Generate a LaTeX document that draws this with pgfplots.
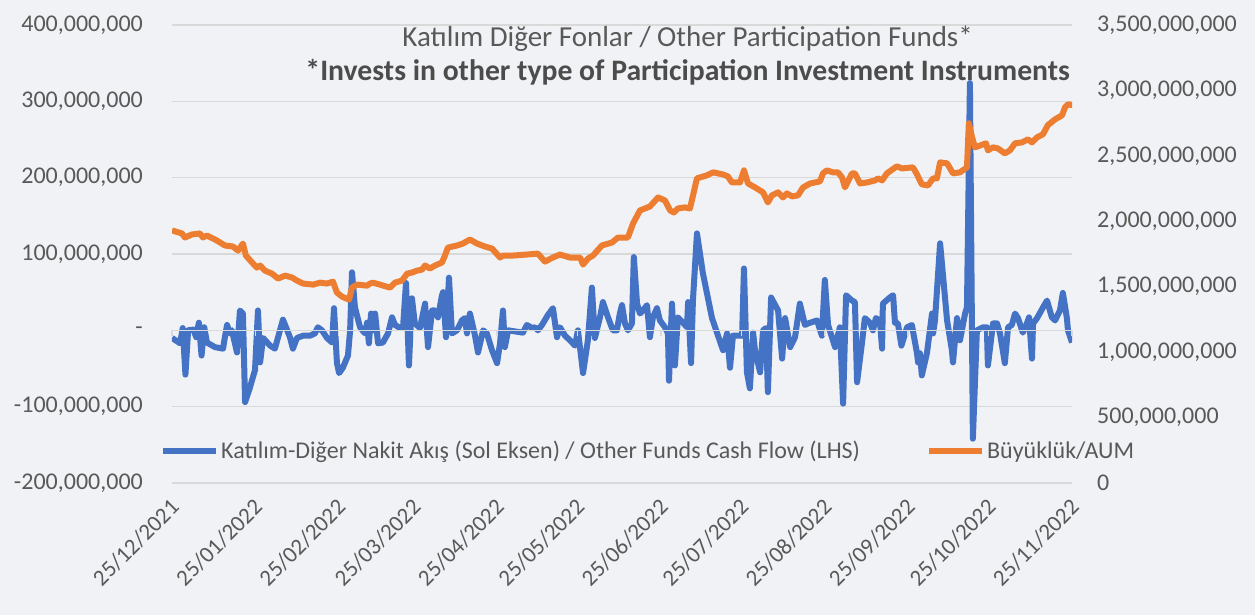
\documentclass[border=0pt]{standalone}
\usepackage{pgfplots}
\pgfplotsset{compat=1.18}
\usepackage{fontspec}
\setmainfont{Carlito}
\definecolor{bgc}{RGB}{241,242,245}
\definecolor{txt}{RGB}{89,89,89}
\definecolor{gridc}{RGB}{217,217,217}
\definecolor{cfblue}{RGB}{68,114,196}
\definecolor{aumorange}{RGB}{237,125,49}
\newcommand{\fs}{\fontsize{24bp}{29bp}\selectfont}
\newcommand{\fx}{\fontsize{23bp}{28bp}\selectfont}
\newcommand{\ft}{\fontsize{29bp}{34bp}\selectfont}
\newcommand{\ftb}{\fontsize{29.7bp}{34bp}\selectfont}
\begin{document}
\begin{tikzpicture}
\fill[bgc,use as bounding box] (-172bp,-132bp) rectangle (1083bp,483bp);
% left axis: cash flow (millions)
\begin{axis}[
  scale only axis, width=900bp, height=458bp,
  xmin=0, xmax=335, ymin=-200, ymax=400,
  axis y line*=left, axis x line*=bottom,
  axis line style={draw=none},
  xtick={0,31,62,90,121,151,182,212,243,274,304,335},
  xticklabels={25/12/2021,25/01/2022,25/02/2022,25/03/2022,25/04/2022,25/05/2022,25/06/2022,25/07/2022,25/08/2022,25/09/2022,25/10/2022,25/11/2022},
  xticklabel style={xshift=-3bp, yshift=-14bp, rotate=45, anchor=north east, inner sep=0pt, font=\fx, text=txt},
  ytick={-200,-100,0,100,200,300,400},
  yticklabels={{-200,000,000},{-100,000,000},{-},{100,000,000},{200,000,000},{300,000,000},{400,000,000}},
  yticklabel style={inner sep=0pt, xshift=-29bp, font=\fs, text=txt},
  major tick length=0pt,
  ymajorgrids, grid style={gridc, line width=1.4bp},
]
\addplot[cfblue, line width=6bp, line join=round] coordinates {
(0,-10)(3,-17)(4,3)(5,-58)(6,0)(8,1)(9,-9)(10,10)(11,-33)(12,4)(13,-16)(16,-22)(19,-24)(19.5,-13)(20.5,7)(21.6,-4)(22.3,0)(24.2,-29)(25.3,26)(26.4,22)(27.2,-94)(29,-75)(30.9,-52)(32,26)(32.8,-42)(33.9,-10)(36.5,-20)(38.3,-24)(41.3,14)(43.9,-9)(45,-24)(46.5,-10)(48.8,-7)(51.4,-7)(53.2,-4)(54.3,4)(55.8,0)(57.7,-10)(59.6,-16)(60.3,29)(61.4,-43)(62.2,-56)(63.6,-49)(65.5,-33)(66.3,0)(67,76)(68.1,30)(70,4)(71.8,-4)(72.6,10)(73.3,-17)(74.1,22)(74.8,0)(75.6,22)(76.7,-17)(78.5,-16)(80.4,-4)(81.9,17)(83,7)(84.9,3)(86,4)(87.1,62)(88.2,-46)(89.3,42)(90.4,9)(92.3,3)(94.2,35)(95.3,-22)(96.8,26)(97.9,26)(99,17)(100.5,46)(100.9,50)(102,-9)(103.1,69)(104.2,-4)(106.1,0)(107.9,13)(109,16)(109.8,-4)(110.9,22)(112.8,-7)(113.9,-29)(115.8,0)(117.2,-4)(119.1,-26)(121,-43)(122.1,-17)(123.2,26)(123.9,-22)(125.1,0)(130.6,-3)(132.1,7)(134,3)(135.1,4)(136.2,0)(137.7,7)(139.9,20)(141.8,29)(143.3,-9)(144.4,4)(146.3,-7)(148.1,-13)(150,-20)(151.1,0)(153,-56)(154.8,-13)(156.3,56)(157.4,-10)(159.3,17)(160.4,37)(162.3,17)(164.1,0)(165.6,0)(166.7,22)(167.5,33)(168.6,9)(169.7,0)(171.2,9)(171.9,96)(173.1,35)(174.2,22)(175.3,26)(176.8,33)(177.9,-9)(179,17)(180.5,29)(181.6,13)(183.5,4)(184.6,-4)(185,-66)(186.1,35)(187.2,-46)(188.3,17)(190.2,10)(191.7,4)(192.1,37)(193.2,-43)(193.9,39)(195.4,127)(197.6,75)(201,16)(205.1,-26)(206.6,-4)(207.7,-49)(208.8,-7)(212.2,-7)(212.9,81)(214,-55)(215.1,-76)(216.3,-3)(217,-26)(218.9,-55)(220,0)(221.1,3)(221.8,-81)(223,43)(225.6,26)(227.1,-37)(228.2,16)(230.1,-22)(231.9,-9)(233.7,35)(235.6,7)(236.7,9)(240.1,13)(241.9,-7)(243,66)(244.2,7)(246.8,-22)(248.6,4)(249.8,-96)(250.9,46)(253.1,39)(254.2,37)(255,-68)(256.8,-17)(257.9,16)(259.8,10)(260.9,0)(262,16)(263.5,13)(264.3,-24)(264.6,35)(267.2,43)(268.4,46)(269.1,10)(270.2,9)(271.5,-20)(273.6,4)(275.4,7)(277.3,-30)(277.7,-42)(278.4,-30)(279.1,-59)(281,-30)(282.9,22)(283.3,-4)(284,13)(285.9,114)(288.5,13)(290.3,-26)(290.7,-42)(292.2,16)(293.3,-13)(295.2,22)(295.9,30)(297,324)(298.1,-142)(299.6,0)(301.9,4)(303.3,4)(303.7,-46)(305.6,9)(307.1,9)(308.2,-4)(310,-43)(311.2,4)(312.6,7)(313.8,22)(314.9,16)(316.7,-3)(318.2,9)(319,17)(320.1,-37)(320.5,9)(322,16)(324.2,30)(325.7,39)(327.5,17)(328.7,13)(330.5,26)(331.6,49)(333.1,16)(333.5,0)(335,-16)
};
\end{axis}
% small tick marks on the zero line
\begin{axis}[
  scale only axis, width=900bp, height=458bp,
  xmin=0, xmax=335, ymin=-200, ymax=400,
  axis x line*=middle, axis y line=none,
  axis line style={gridc, line width=1.4bp},
  xtick={0,31,62,90,121,151,182,212,243,274,304,335},
  xticklabels={}, xtick align=outside,
  major tick length=6bp, tick style={gridc, line width=1.4bp},
]
\end{axis}
% right axis: AUM (billions)
\begin{axis}[
  scale only axis, width=900bp, height=458bp,
  xmin=0, xmax=335, ymin=0, ymax=3.5,
  axis y line*=right, axis x line=none,
  axis line style={draw=none},
  ytick={0,0.5,1,1.5,2,2.5,3,3.5},
  yticklabels={0,{500,000,000},{1,000,000,000},{1,500,000,000},{2,000,000,000},{2,500,000,000},{3,000,000,000},{3,500,000,000}},
  yticklabel style={inner sep=0pt, xshift=25bp, font=\fs, text=txt},
  major tick length=0pt,
  title={\textcolor{txt}{Katılım Diğer Fonlar / Other Participation Funds*}\\\textcolor{txt!85!black}{\ftb\bfseries *Invests in other type of Participation Investment Instruments}},
  title style={at={(0.573,1)}, anchor=north, yshift=-3bp, align=center, font=\ft},
  legend style={at={(-0.0133,0.07)}, anchor=west, draw=none, fill=none, font=\fs, text=txt, legend columns=2, inner sep=0pt,
    /tikz/every even column/.append style={column sep=64bp}},
  legend image code/.code={\draw[#1] (0bp,0bp) -- (53bp,0bp);},
]
\addlegendimage{cfblue, line width=6bp}
\addlegendentry{Katılım-Diğer Nakit Akış (Sol Eksen) / Other Funds Cash Flow (LHS)}
\addplot[aumorange, line width=6bp, line join=round] coordinates {
(0,1.930)(3.7,1.907)(4.8,1.876)(7.4,1.899)(10.4,1.907)(11.5,1.876)(13,1.891)(16,1.861)(17.9,1.838)(19.7,1.815)(22.7,1.807)(24.6,1.776)(26.4,1.830)(27.5,1.738)(29.8,1.685)(31.6,1.646)(32.8,1.662)(34.6,1.623)(37.2,1.600)(39.5,1.562)(42.1,1.585)(44.7,1.570)(46.5,1.547)(48.8,1.524)(52.5,1.516)(55.1,1.531)(57.7,1.524)(59.9,1.539)(61.4,1.455)(63.3,1.424)(65.9,1.401)(67,1.493)(68.9,1.516)(72.6,1.508)(73.7,1.524)(74.8,1.531)(77.4,1.516)(81.1,1.493)(83,1.531)(85.6,1.547)(87.5,1.600)(89.3,1.608)(91.2,1.623)(93.1,1.631)(94.2,1.662)(96,1.639)(97.9,1.662)(100.5,1.685)(101.6,1.738)(102.7,1.799)(106.1,1.815)(108.3,1.830)(110.9,1.861)(113.5,1.830)(116.5,1.807)(119.1,1.792)(122.1,1.723)(123.2,1.738)(126.9,1.738)(132.1,1.746)(136.2,1.753)(138.8,1.692)(141.8,1.723)(144.4,1.746)(148.1,1.723)(151.9,1.723)(153,1.669)(154.8,1.715)(156.7,1.738)(160,1.815)(163.8,1.838)(166,1.876)(169.7,1.876)(171.6,1.983)(174.2,2.083)(177.9,2.113)(180.9,2.182)(183.5,2.159)(185.4,2.083)(186.8,2.067)(188.3,2.098)(190.9,2.106)(192.8,2.098)(195.4,2.328)(199.1,2.351)(201.4,2.374)(205.1,2.358)(206.9,2.343)(208.4,2.297)(211.4,2.297)(212.9,2.389)(214.4,2.289)(217,2.259)(220,2.221)(221.8,2.144)(223.3,2.198)(225.6,2.221)(227.4,2.182)(228.9,2.213)(230.8,2.190)(233,2.198)(234.9,2.259)(237.5,2.289)(241.2,2.305)(242.3,2.366)(243.8,2.389)(246,2.374)(247.9,2.374)(249.4,2.335)(250.5,2.259)(253.1,2.366)(254.2,2.366)(256.1,2.289)(258.7,2.297)(261.7,2.312)(262.8,2.328)(264.3,2.312)(266.1,2.366)(269.8,2.420)(271.7,2.404)(275.8,2.412)(277.3,2.358)(279.1,2.282)(281.4,2.274)(283.3,2.328)(284.7,2.328)(285.9,2.450)(288.5,2.443)(290.7,2.366)(293.3,2.374)(295.9,2.412)(296.6,2.749)(297.8,2.642)(298.9,2.565)(303,2.596)(303.7,2.542)(305.6,2.565)(307.4,2.557)(310,2.519)(311.9,2.542)(313.8,2.596)(316.4,2.603)(318.6,2.626)(320.1,2.603)(322,2.642)(324.2,2.665)(326,2.734)(328.7,2.779)(331.3,2.810)(332.4,2.871)(333.5,2.894)(335.4,2.887)
};
\addlegendentry{Büyüklük/AUM}
\end{axis}
\end{tikzpicture}
\end{document}
